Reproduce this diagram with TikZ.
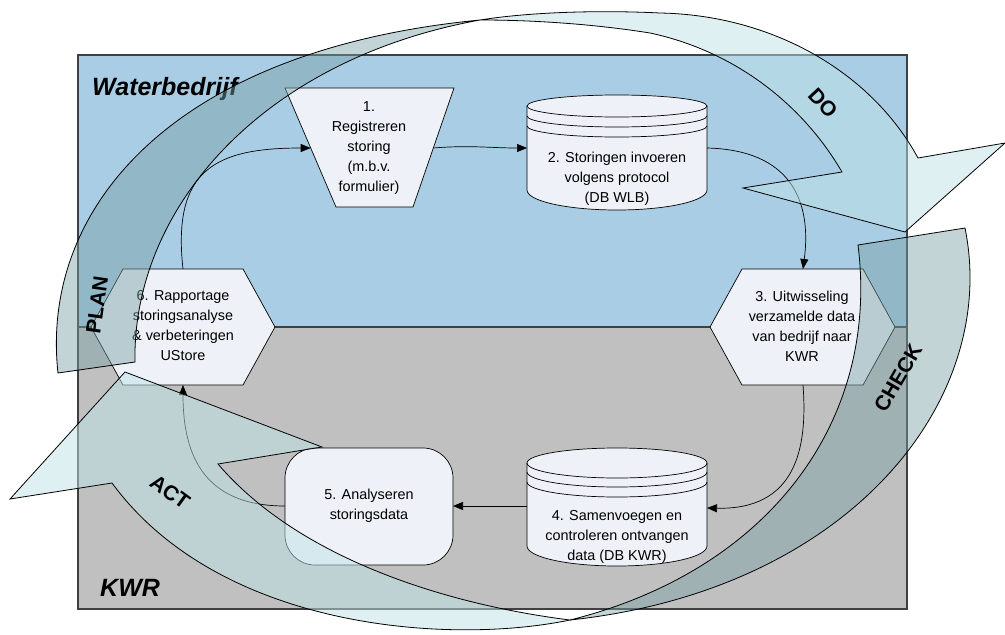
\documentclass[tikz,border=0pt]{standalone}
\usepackage{fontspec}
\setmainfont{Liberation Sans}
\usetikzlibrary{arrows.meta}

\definecolor{wbblauw}{RGB}{169,205,228}
\definecolor{kwrgrijs}{RGB}{192,192,192}
\definecolor{stapvul}{RGB}{238,241,247}
\definecolor{pdcavoorkant}{RGB}{190,226,230}
\definecolor{pdcaachterkant}{RGB}{120,160,165}

\tikzset{
  stap/.style={fill=stapvul, draw=black, line width=0.7pt},
  staptekst/.style={align=center, inner sep=0pt, font=\fontsize{14.4}{20}\selectfont},
  stroom/.style={-{Triangle[length=10pt,width=8pt]}, line width=0.7pt},
  pdcavoor/.style={fill=pdcavoorkant, fill opacity=0.5, draw=black, line width=0.8pt},
  pdcaachter/.style={fill=pdcaachterkant, fill opacity=0.45, draw=black, line width=0.8pt},
  fase/.style={font=\fontsize{21}{21}\selectfont\bfseries, inner sep=0pt},
  partij/.style={font=\fontsize{25}{25}\selectfont\bfseries\itshape, anchor=base west, inner sep=0pt},
}

\begin{document}
\begin{tikzpicture}[x=1pt,y=-1pt]
                \useasboundingbox (0,0) rectangle (1005,635);

                % twee domeinen
                \fill[wbblauw] (78,55) rectangle (907,327);
                \fill[kwrgrijs] (78,327) rectangle (907,609);
                \draw[line width=1.2pt, draw=black!75] (78,55) rectangle (907,609);
                \draw[line width=1.2pt, draw=black!75] (78,327) -- (907,327);
                \node[partij] (wb) at (92,95) {Waterbedrijf};
                \node[partij] (kwr) at (100,596) {KWR};

                % stappen
                \draw[stap] (285,88) -- (454,88) -- (413,207) -- (336,207) -- cycle;
                \node[staptekst] (reg) at (369,148) {1.\\Registreren\\storing\\(m.b.v.\\formulier)};

                \draw[stap] (527,106) -- (527,190) arc[start angle=180, end angle=0, x radius=90, y radius=20]
                    -- (707,106) arc[start angle=0, end angle=-180, x radius=90, y radius=11] -- cycle;
                \draw[line width=0.7pt] (527,106) arc[start angle=180, end angle=0, x radius=90, y radius=11];
                \draw[line width=0.7pt] (527,116) arc[start angle=180, end angle=0, x radius=90, y radius=11];
                \draw[line width=0.7pt] (527,126) arc[start angle=180, end angle=0, x radius=90, y radius=11];
                \node[staptekst] (invoer) at (617,179) {2. Storingen invoeren\\volgens protocol\\(DB WLB)};

                \draw[stap] (710,327) -- (742,269) -- (863,269) -- (895,327) -- (863,385) -- (742,385) -- cycle;
                \node[staptekst] (uitw) at (802,326) {3. Uitwisseling\\verzamelde data\\van bedrijf naar\\KWR};

                \draw[stap] (527,463) -- (527,546) arc[start angle=180, end angle=0, x radius=90, y radius=20]
                    -- (707,463) arc[start angle=0, end angle=-180, x radius=90, y radius=15] -- cycle;
                \draw[line width=0.7pt] (527,463) arc[start angle=180, end angle=0, x radius=90, y radius=15];
                \draw[line width=0.7pt] (527,472) arc[start angle=180, end angle=0, x radius=90, y radius=15];
                \draw[line width=0.7pt] (527,482) arc[start angle=180, end angle=0, x radius=90, y radius=15];
                \node[staptekst] (samen) at (617,537) {4. Samenvoegen en\\controleren ontvangen\\data (DB KWR)};

                \draw[stap, rounded corners=30pt] (285,448) rectangle (453,565);
                \node[staptekst] (analyse) at (369,506) {5. Analyseren\\storingsdata};

                \draw[stap] (91,327) -- (123,269) -- (243,269) -- (275,327) -- (243,385) -- (123,385) -- cycle;
                \node[staptekst] (rapport) at (183,326) {6. Rapportage\\storingsanalyse\\\& verbeteringen\\UStore};

                % aansluitpunten
                \coordinate (reg-in) at (310.7,148);
                \coordinate (reg-uit) at (433.3,148);
                \coordinate (invoer-in) at (527,148);
                \coordinate (invoer-uit) at (707,148);
                \coordinate (uitw-in) at (803,269);
                \coordinate (uitw-uit) at (803,385);
                \coordinate (samen-in) at (707,508);
                \coordinate (samen-uit) at (527,506);
                \coordinate (analyse-in) at (453,506);
                \coordinate (analyse-uit) at (285,506);
                \coordinate (rapport-in) at (183,385);
                \coordinate (rapport-uit) at (183,269);

                \draw[stroom] (rapport-uit) .. controls (172,170) and (215,148) .. (reg-in);
                \draw[stroom] (reg-uit) .. controls (470,145) and (490,148) .. (invoer-in);
                \draw[stroom] (invoer-uit) .. controls (790,150) and (812,200) .. (uitw-in);
                \draw[stroom] (uitw-uit) .. controls (808,450) and (795,510) .. (samen-in);
                \draw[stroom] (samen-uit) -- (analyse-in);
                \draw[stroom] (analyse-uit) .. controls (200,506) and (183,450) .. (rapport-in);

                % PDCA pijlen
                \path[pdcaachter] (58,373) .. controls (40,210) and (170,50) .. (480,20)
                    .. controls (260,60) and (132,210) .. (135,362) -- cycle;
                \path[pdcavoor] (480,20) .. controls (530,12) and (600,10) .. (660,13)
                    .. controls (770,15) and (870,70) .. (918,158) -- (1005,143) -- (905,232) -- (743,188) -- (842,172)
                    .. controls (800,100) and (730,50) .. (650,33) .. controls (600,25) and (540,20) .. (480,20) -- cycle;
                \path[pdcaachter] (858,245) -- (965,228) .. controls (1000,400) and (850,590) .. (570,620)
                    .. controls (770,570) and (880,420) .. (858,245) -- cycle;
                \path[pdcavoor] (570,620) .. controls (450,645) and (220,630) .. (112,483) -- (10,499) -- (125,372)
                    -- (322,447) -- (218,464) .. controls (300,560) and (450,605) .. (570,620) -- cycle;

                \node[fase, rotate=82] (plan) at (97,305) {PLAN};
                \node[fase, rotate=-47] (do) at (823,103) {DO};
                \node[fase, rotate=60] (check) at (898,378) {CHECK};
                \node[fase, rotate=-36] (act) at (170,492) {ACT};
\end{tikzpicture}
\end{document}
